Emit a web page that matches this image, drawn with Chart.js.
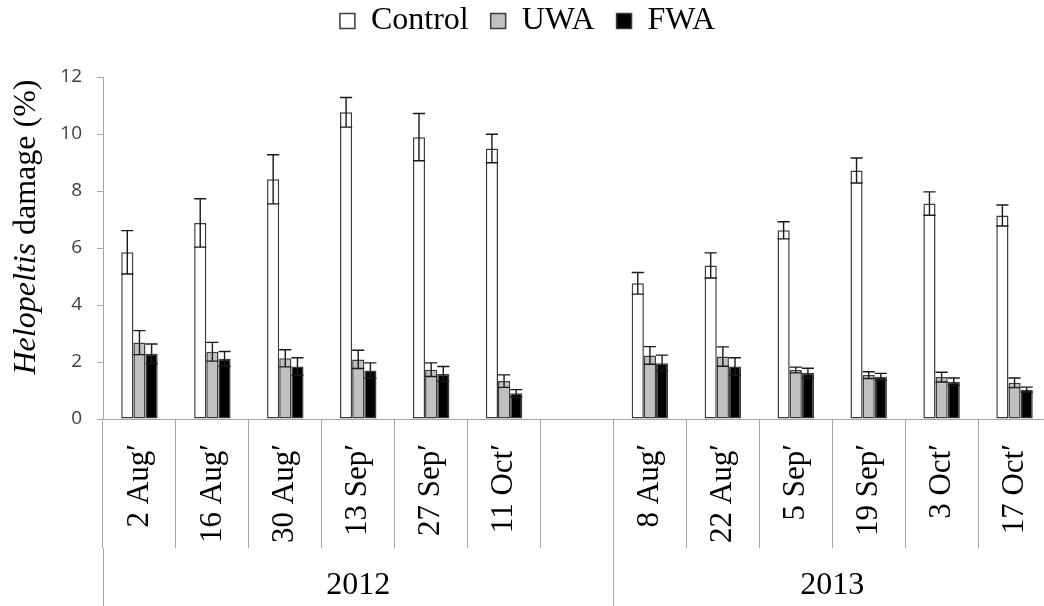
<!DOCTYPE html>
<html>
<head>
<meta charset="utf-8">
<script src="https://cdn.jsdelivr.net/npm/chart.js@4/dist/chart.umd.min.js"></script>
<style>
  html, body { margin: 0; padding: 0; background: #fff; overflow: hidden; width: 1044px; height: 606px; }
  canvas { display: block; }
</style>
</head>
<body>
<canvas id="chart" width="1052" height="606"></canvas>
<script>
// Sampling dates (the empty slot separates the two seasons)
const categories = ["2 Aug′", "16 Aug′", "30 Aug′", "13 Sep′", "27 Sep′", "11 Oct′", "",
                    "8 Aug′", "22 Aug′", "5 Sep′", "19 Sep′", "3 Oct′", "17 Oct′"];

// Mean damage (%) per treatment
const controlValues = [5.85, 6.88, 8.41, 10.76, 9.89, 9.49, null, 4.76, 5.39, 6.62, 8.72, 7.56, 7.14];
const uwaValues     = [2.68, 2.36, 2.13, 2.09, 1.73, 1.33, null, 2.23, 2.19, 1.72, 1.54, 1.47, 1.27];
const fwaValues     = [2.29, 2.11, 1.84, 1.70, 1.58, 0.90, null, 1.96, 1.84, 1.61, 1.48, 1.31, 1.03];

// Standard errors
const controlErrors = [0.76, 0.85, 0.86, 0.52, 0.83, 0.50, null, 0.38, 0.44, 0.30, 0.44, 0.41, 0.37];
const uwaErrors     = [0.42, 0.33, 0.30, 0.32, 0.24, 0.22, null, 0.31, 0.34, 0.10, 0.12, 0.17, 0.17];
const fwaErrors     = [0.34, 0.26, 0.31, 0.27, 0.26, 0.13, null, 0.28, 0.31, 0.17, 0.12, 0.13, 0.09];

// Season groups: label and first category index
const years = ["2012", "2013"];
const yearStarts = [0, 7];

// Value axis
const yMin = 0, yMax = 12, yStep = 2;

const seriesNames = ["Control", "UWA", "FWA"];
const titleItalic = "Helopeltis";
const titleRest = " damage (%)";

const AXIS_GREY = '#a6a6a6';
const SERIF = '"Liberation Serif", "Times New Roman", serif';

// Boundaries and centres of the season groups on a 0..n scale
const nCat = categories.length;
const yearBounds = yearStarts.concat([nCat]);
const yearMids = years.map((_, i) => (yearBounds[i] + yearBounds[i + 1]) / 2);

const errorSets = [controlErrors, uwaErrors, fwaErrors];

const errorBars = {
  id: 'errorBars',
  afterDatasetsDraw(chart) {
    const { ctx } = chart;
    const y = chart.scales.y;
    ctx.save();
    ctx.strokeStyle = '#1a1a1a';
    ctx.lineWidth = 1.4;
    chart.data.datasets.forEach((ds, i) => {
      const meta = chart.getDatasetMeta(i);
      const errs = errorSets[i];
      meta.data.forEach((bar, j) => {
        const v = ds.data[j], e = errs[j];
        if (v == null || e == null) return;
        const yTop = y.getPixelForValue(v + e);
        const yBot = y.getPixelForValue(v - e);
        const half = bar.width / 2;
        ctx.beginPath();
        ctx.moveTo(bar.x, yTop); ctx.lineTo(bar.x, yBot);
        ctx.moveTo(bar.x - half, yTop); ctx.lineTo(bar.x + half, yTop);
        ctx.moveTo(bar.x - half, yBot); ctx.lineTo(bar.x + half, yBot);
        ctx.stroke();
      });
    });
    ctx.restore();
  }
};

// Value-axis title with the genus name in italics
const yTitle = {
  id: 'yTitle',
  afterDraw(chart) {
    const { ctx, chartArea } = chart;
    const italic = 'italic 32px ' + SERIF;
    const roman = '32px ' + SERIF;
    ctx.save();
    ctx.font = italic; const w1 = ctx.measureText(titleItalic).width;
    ctx.font = roman;  const w2 = ctx.measureText(titleRest).width;
    const cy = (chartArea.top + chartArea.bottom) / 2 - 21;
    ctx.translate(35, cy);
    ctx.rotate(-Math.PI / 2);
    ctx.textBaseline = 'alphabetic';
    ctx.textAlign = 'left';
    ctx.fillStyle = '#000';
    const x0 = -(w1 + w2) / 2;
    ctx.font = italic; ctx.fillText(titleItalic, x0, 0);
    ctx.font = roman;  ctx.fillText(titleRest, x0 + w1, 0);
    ctx.restore();
  }
};

// Place the legend row close to the top edge
const legendPlacement = {
  id: 'legendPlacement',
  afterLayout(chart) {
    const l = chart.legend;
    if (!l) return;
    const h = l.height;
    l.top = -17; l.bottom = l.top + h;
    l.left += 2; l.right += 2;
  }
};

const barStyle = { borderColor: '#3c3c3c', borderWidth: 1.5, borderSkipped: false,
                   categoryPercentage: 0.5, barPercentage: 1.0, xAxisID: 'x', yAxisID: 'y' };

new Chart(document.getElementById('chart'), {
  type: 'bar',
  data: {
    labels: categories,
    datasets: [
      Object.assign({ label: seriesNames[0], data: controlValues, backgroundColor: '#ffffff' }, barStyle),
      Object.assign({ label: seriesNames[1], data: uwaValues,     backgroundColor: '#c0c0c0' }, barStyle),
      Object.assign({ label: seriesNames[2], data: fwaValues,     backgroundColor: '#000000' }, barStyle)
    ]
  },
  options: {
    responsive: false,
    animation: false,
    devicePixelRatio: 1,
    layout: { padding: { top: 13, left: 0, right: 1, bottom: 0 } },
    plugins: {
      legend: {
        display: true,
        position: 'top',
        labels: {
          boxWidth: 15, boxHeight: 15, padding: 22,
          color: '#000',
          font: { family: SERIF, size: 32 }
        }
      },
      tooltip: { enabled: false },
      title: { display: false }
    },
    scales: {
      x: {
        type: 'category',
        position: 'bottom',
        weight: 1,
        offset: true,
        grid: { offset: true, drawOnChartArea: false, drawTicks: true, tickLength: 129, color: AXIS_GREY, lineWidth: 1 },
        border: { display: true, color: AXIS_GREY, width: 1 },
        ticks: {
          autoSkip: false, minRotation: 90, maxRotation: 90, padding: -104,
          color: '#000', font: { family: SERIF, size: 31 }
        },
        afterFit(scale) { scale.height = 129; }
      },
      years: {
        type: 'linear',
        position: 'bottom',
        axis: 'x',
        weight: 2,
        min: 0, max: nCat,
        offset: false,
        afterBuildTicks(scale) {
          const vals = yearBounds.concat(yearMids).sort((a, b) => a - b);
          scale.ticks = vals.map(v => ({ value: v }));
        },
        grid: {
          offset: false,
          drawOnChartArea: false, drawTicks: true, tickLength: 58, lineWidth: 1,
          color: (c) => (c.tick && yearBounds.includes(c.tick.value)) ? AXIS_GREY : 'rgba(0,0,0,0)'
        },
        border: { display: false },
        ticks: {
          autoSkip: false, maxRotation: 0, minRotation: 0, padding: -40,
          color: '#000', font: { family: SERIF, size: 32 },
          callback: (v) => { const k = yearMids.indexOf(v); return k >= 0 ? years[k] : ''; }
        },
        afterFit(scale) { scale.height = 58; }
      },
      y: {
        type: 'linear',
        position: 'left',
        min: yMin, max: yMax,
        grid: { drawOnChartArea: false, drawTicks: true, tickLength: 6, color: AXIS_GREY, lineWidth: 1 },
        border: { display: true, color: AXIS_GREY, width: 1 },
        ticks: {
          stepSize: yStep, padding: 15, color: '#404040',
          font: { family: '"Open Sans", sans-serif', size: 19 }
        },
        afterFit(scale) { scale.width = 103; }
      }
    }
  },
  plugins: [errorBars, yTitle, legendPlacement]
});
</script>
</body>
</html>
